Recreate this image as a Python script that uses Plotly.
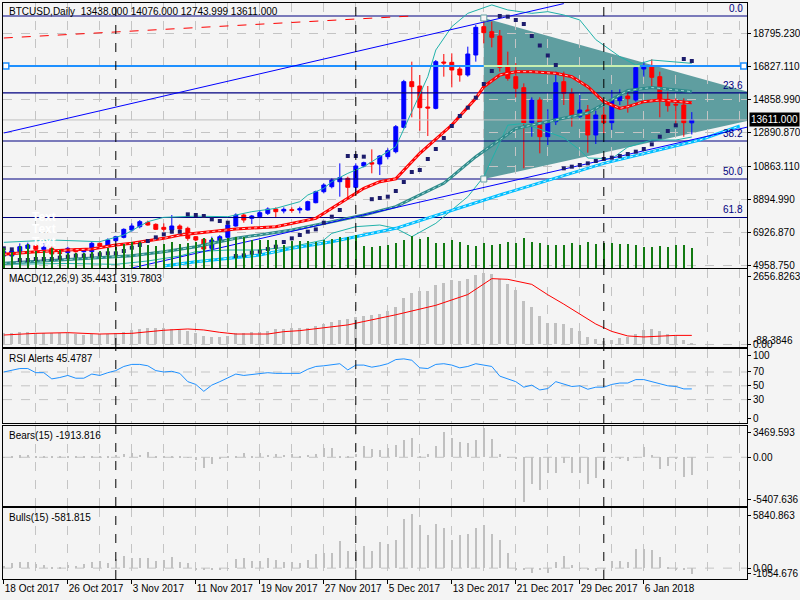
import pandas as pd
import plotly.graph_objects as go
from plotly.subplots import make_subplots

START = pd.Timestamp("2017-10-18")
DATES = pd.date_range(START, periods=87, freq="D")
DAY = pd.Timedelta(days=1)

# daily candles (18 Oct 2017 .. 12 Jan 2018)
OPEN = [5495, 5495, 5754, 5953, 6112, 5893, 5953, 5694, 5694, 5913,
        5754, 5754, 6251, 6112, 6410, 6609, 7046, 7245, 7503, 7384,
        7205, 7046, 7285, 7146, 6648, 6489, 5953, 6410, 6609, 7285,
        7941, 7742, 7841, 8040, 8298, 8179, 8259, 8239, 8239, 8676,
        9332, 9630, 9929, 10127, 9591, 10863, 11062, 10982, 11420, 11718,
        13169, 15893, 15634, 14382, 14302, 17066, 17046, 16648, 16290, 17483,
        19173, 18875, 18616, 16787, 16191, 15535, 13448, 14799, 12612, 13507,
        15893, 15197, 13805, 14203, 12712, 13905, 13448, 14760, 15038, 14799,
        16648, 16827, 16191, 14839, 14541, 14501, 13438]
HIGH = [5853, 5953, 6251, 6291, 6211, 6251, 6052, 5853, 6052, 5953,
        5913, 6350, 6290, 6549, 6700, 7146, 7444, 7642, 7603, 7444,
        7444, 7941, 7384, 7245, 6688, 6549, 6648, 6748, 7444, 8040,
        8040, 7941, 8239, 8398, 8398, 8398, 8398, 8438, 8795, 9392,
        9829, 10127, 11022, 10227, 11022, 11122, 11857, 11519, 11917, 13309,
        16000, 17086, 16290, 15634, 17185, 17543, 17583, 16787, 17980, 19272,
        19809, 19471, 18974, 17682, 17000, 15793, 14958, 14958, 14243, 16489,
        16489, 15495, 15098, 14501, 14163, 14402, 15396, 15435, 15396, 16887,
        17086, 17225, 16489, 15296, 14899, 14899, 14076]
LOW = [5356, 5257, 5555, 5853, 5814, 5754, 5456, 5217, 5615, 5694,
       5694, 5694, 6052, 6052, 6350, 6549, 6947, 7146, 7305, 7046,
       6947, 6847, 7046, 6410, 6390, 5456, 5615, 6291, 6549, 7245,
       7483, 7404, 7742, 7941, 7802, 8040, 8080, 8040, 8199, 8637,
       9233, 9531, 9034, 8935, 9332, 10784, 10426, 10326, 11261, 11619,
       13100, 13766, 12970, 12652, 14243, 16191, 15555, 15893, 16191, 17086,
       18179, 17941, 16489, 15952, 14950, 10724, 12612, 11619, 12116, 13308,
       14501, 13209, 13706, 11659, 12175, 12811, 13010, 14501, 14044, 14700,
       16191, 15634, 13766, 14104, 13308, 12612, 12743.999]
CLOSE = [5754, 5794, 6052, 6152, 5893, 6012, 5615, 5654, 5953, 5754,
         5853, 6251, 6092, 6450, 6648, 7086, 7285, 7543, 7344, 7086,
         7086, 7285, 7106, 6549, 6450, 5913, 6450, 6648, 7344, 7941,
         7642, 7881, 8080, 8298, 8139, 8279, 8219, 8318, 8736, 9332,
         9730, 10028, 10167, 9591, 10863, 11062, 10982, 11459, 11777, 13209,
         15893, 15595, 14342, 14322, 17086, 17006, 16588, 16290, 17543, 19133,
         18815, 18537, 16748, 16092, 15495, 13448, 14799, 12612, 13547, 15833,
         15197, 13845, 14203, 12712, 13905, 13448, 14799, 15038, 14879, 16728,
         16827, 16151, 14839, 14462, 14501, 13448, 13611]
# tick volume (thousands)
VOLUME = [20, 16, 22, 24, 17, 17, 20, 18, 15, 15, 15, 16, 17, 20, 21, 24, 26, 26, 23, 22,
          24, 26, 24, 25, 26, 30, 30, 30, 30, 31, 31, 28, 28, 28, 28, 23, 27, 27, 27, 26,
          28, 29, 31, 31, 33, 22, 21, 22, 23, 25, 28, 32, 29, 31, 25, 25, 28, 26, 23, 22,
          25, 23, 24, 26, 25, 30, 26, 25, 23, 23, 23, 25, 23, 26, 24, 25, 25, 24, 24, 23,
          21, 21, 22, 21, 23, 23, 20]
SAR = [5953, 5893, 5257, 5257, 5317, 5317, 5317, 5396, 5456, 5515,
       5515, 5515, 5595, 5655, 5655, 5794, 5993, 6152, 6390, 6609,
       6788, 6947, 6947, 7981, 7941, 7881, 7682, 7583, 7483, 5495,
       5535, 5694, 5754, 5913, 6052, 6330, 6549, 6748, 6947, 7086,
       7483, 7841, 8239, 11460, 11460, 11420, 8885, 8955, 9034, 9372,
       9909, 10505, 10625, 11281, 11877, 12533, 13249, 13845, 14342, 14939,
       15754, 16529, 19809, 19769, 19571, 19332, 18616, 18050, 17454, 16887,
       10724, 10823, 10923, 11022, 11161, 11281, 11360, 11460, 11579, 11718,
       11877, 12156, 12612, 12950, 13290, 17245, 17125]

# averages and bands, sampled at bar numbers
RED_MA_IDX = [0, 4, 8, 11, 14, 16, 20, 22, 24, 29, 34, 37, 39, 41, 43, 45, 47, 49, 52, 56,
              59, 60, 62, 64, 66, 69, 71, 73, 75, 77, 78, 80, 82, 84, 86]
RED_MA = [5595, 5754, 5853, 5913, 6152, 6251, 6549, 6748, 6860, 7106, 7245, 7570, 7742, 8338,
          8935, 9531, 9929, 10100, 11619, 13308, 14899, 15595, 16290, 16489, 16489, 16390,
          16191, 15595, 14700, 14302, 14402, 14700, 14799, 14700, 14640]
TEAL_MA_IDX = [0, 12, 16, 20, 24, 29, 36, 41, 45, 49, 55, 59, 62, 64, 73, 78, 81, 86]
TEAL_MA = [5058, 5396, 5515, 5754, 6052, 6549, 7046, 7543, 7941, 8438, 9829, 11420, 12414,
           13100, 14024, 15363, 15542, 15300]
SKY_MA_IDX = [20, 24, 32, 36, 41, 45, 49, 62, 75, 87, 92]
SKY_MA = [4900, 5157, 5555, 5953, 6350, 6748, 7146, 9134, 11022, 12414, 13250]
BB_UP_IDX = [0, 6, 12, 15, 18, 20, 24, 28, 31, 34, 37, 38, 40, 41, 43, 45, 47, 49, 53, 54,
             56, 58, 61, 63, 66, 68, 70, 72, 74, 77, 79, 81, 86]
BB_UP = [6311, 6450, 6350, 6748, 7543, 7802, 7870, 7841, 8139, 8338, 8736, 9134, 9531, 9929,
         10426, 10823, 11420, 12016, 16191, 17781, 19173, 19968, 20470, 20170, 19968, 20068,
         19870, 19571, 18400, 17384, 16887, 17185, 16986]
BB_LO_IDX = [0, 8, 14, 18, 22, 24, 28, 32, 36, 40, 41, 44, 47, 49, 51, 54, 58, 60, 63, 65,
             70, 72, 73, 76, 78, 81, 84, 86]
BB_LO = [5000, 5050, 5000, 5200, 5500, 5754, 5853, 5853, 6052, 6450, 6847, 7245, 7344, 7146,
         6648, 7444, 9034, 10227, 13300, 13400, 12550, 11817, 11340, 11300, 11996, 12413,
         12413, 12593]

# indicator windows
MACD_HIST = [392, 416, 451, 451, 416, 416, 416, 416, 392, 368, 333, 368, 368, 368, 392, 451,
             511, 535, 570, 594, 570, 546, 511, 475, 392, 297, 273, 273, 297, 392, 392, 451,
             451, 475, 535, 546, 570, 570, 594, 653, 713, 784, 867, 891, 950, 986, 1045, 1081,
             1164, 1307, 1639, 1818, 1877, 1877, 2091, 2174, 2269, 2233, 2293, 2435, 2530,
             2495, 2293, 2115, 1901, 1521, 1319, 986, 772, 772, 725, 570, 475, 273, 190, 119,
             154, 214, 249, 356, 511, 546, 475, 356, 333, 154, 35]
MACD_SIG_IDX = [0, 4, 8, 12, 16, 18, 20, 23, 25, 27, 29, 33, 35, 37, 39, 41, 43, 45, 47, 49,
                54, 58, 61, 63, 66, 68, 70, 72, 74, 76, 78, 80, 82, 84, 86]
MACD_SIG = [333, 392, 416, 368, 392, 451, 500, 546, 511, 428, 368, 368, 451, 487, 546, 630,
            689, 808, 927, 1045, 1378, 1758, 2317, 2293, 2115, 1750, 1420, 1070, 720, 460,
            300, 265, 300, 320, 320]
RSI = [70, 72, 75, 75, 69, 69, 60, 62, 65, 61, 61, 67, 65, 69, 72, 78, 81, 81, 79, 72,
       70, 71, 68, 56, 52, 42, 51, 56, 62, 67, 65, 66, 67, 69, 68, 68, 68, 68, 74, 78,
       79, 81, 82, 73, 80, 80, 77, 79, 82, 88, 89, 87, 76, 75, 81, 82, 80, 76, 78, 82,
       80, 78, 64, 60, 56, 48, 51, 44, 46, 56, 53, 49, 50, 45, 48, 48, 52, 54, 54, 59,
       59, 56, 53, 50, 49, 45.5, 45.5]
BEARS = [30, 100, 200, 250, 60, 120, 50, 90, 120, 90, 60, 140, 90, 180, 255, 330, 440, 255,
         625, 144, 100, 180, 60, -80, -300, -1151, -781, -115, 33, 144, 440, 181, 440, 255,
         329, 255, 329, 181, 255, 329, 1069, 1069, 181, 144, 329, 1291, 921, 810, 995, 1365,
         1920, 2105, 150, 329, 1291, 2771, 2105, 1735, 1550, 1920, 3215, 1994, 329, -41,
         -100, -4924, -3000, -3629, -1800, -1783, -596, -1783, -1800, -3000, -2260, -1335,
         -41, -100, -411, -50, 1180, 255, -1335, -929, -100, -2149, -1914]
BULLS = [227, 456, 620, 620, 391, 292, 161, 62, 292, 227, 391, 555, 719, 489, 883, 1211,
         982, 982, 949, 719, 817, 1047, 620, 489, -102, -102, -102, -102, -36, 883, 949, 719,
         719, 949, 817, 620, 555, 489, 785, 1376, 1474, 1474, 2623, 1704, 1802, 2196, 1704,
         2525, 2361, 2689, 4725, 5250, 4166, 3181, 4330, 3936, 2689, 3247, 3280, 3936, 4232,
         3280, 2689, 1441, -102, -167, -430, -200, -430, 620, 1211, 292, -36, -102, -266,
         -102, 719, 719, 620, 1868, 1868, 1769, 1047, 62, -102, -102, -582]

# objects drawn on the chart (bar number, price)
FIB_LEVELS = [19809, 15221, 12354, 10088, 7794]
FIB_LABELS = ["0.0", "23.6", "38.2", "50.0", "61.8"]
HLINE_PRICE = 16827.11
HLINE_PALE = [60, 79.5]
LAST_PRICE = 13611.0
CHANNEL_UP = ([0, 70], [12831, 20550])
CHANNEL_LO = ([16, 93], [4780, 13190])
RED_DASH = ([0, 51], [18497, 19809])
TRIANGLE = ([60, 60, 100.25], [19690, 10088, 14322])
HANDLES = ([0.25, 92.5], [16827.11, 16827.11])
TRI_HANDLES = ([60, 60], [19690, 10088])
TEXT_OBJ = ([5, 5, 5], [7822, 7106, 6330])
MONTH_STARTS = ["2017-11-01", "2017-12-01", "2018-01-01"]

PRICE_TICKS = [18795.23, 16827.11, 14858.99, 12890.87, 10863.11, 8894.99, 6926.87, 4958.75]
DATE_TICKS = ["2017-10-18", "2017-10-26", "2017-11-03", "2017-11-11", "2017-11-19",
              "2017-11-27", "2017-12-05", "2017-12-13", "2017-12-21", "2017-12-29", "2018-01-06"]

FONT = "Liberation Sans"
GRID = "#c4c4c4"
BG = "#f4f4f4"
MS_DAY = 86400000


def at(idx):
    return [START + DAY * i for i in idx]


def pathdate(i):
    return (START + DAY * i).strftime("%Y-%m-%d_%H:%M:%S")


fig = make_subplots(rows=5, cols=1, shared_xaxes=True, vertical_spacing=0.004,
                    specs=[[{"secondary_y": True}], [{}], [{}], [{}], [{}]])


def main(tr):
    fig.add_trace(tr, row=1, col=1, secondary_y=False)


def hatched(idx, vals, color, inner):
    main(go.Scatter(x=at(idx), y=vals, mode="lines", line=dict(color=color, width=3)))
    main(go.Scatter(x=at(idx), y=vals, mode="lines", line=dict(color=inner, width=1, dash="dot")))


# fib levels, horizontal line and last price as flat traces over the triangle
def hline(price, color, width):
    main(go.Scatter(x=[START - DAY * 2, START + DAY * 96], y=[price, price], mode="lines",
                    line=dict(color=color, width=width)))


for lvl in FIB_LEVELS:
    hline(lvl, "#000080", 1.2)
hline(LAST_PRICE, "#c0c0c0", 1)
hline(HLINE_PRICE, "#1e90ff", 2)

# bands, averages, trend lines
main(go.Scatter(x=at(BB_UP_IDX), y=BB_UP, mode="lines", line=dict(color="#20b2aa", width=1)))
main(go.Scatter(x=at(BB_LO_IDX), y=BB_LO, mode="lines", line=dict(color="#20b2aa", width=1)))
hatched(SKY_MA_IDX, SKY_MA, "#00bfff", "#d8f4ff")
hatched(TEAL_MA_IDX, TEAL_MA, "#2e8b8b", "#a8d4d4")
for xs, ys in (CHANNEL_UP, CHANNEL_LO):
    main(go.Scatter(x=at(xs), y=ys, mode="lines", line=dict(color="#0000ff", width=1)))
hatched(RED_MA_IDX, RED_MA, "#ff0000", "#ffc8c8")
main(go.Scatter(x=at(RED_DASH[0]), y=RED_DASH[1], mode="lines",
                line=dict(color="#ff0000", width=1, dash="dash")))
main(go.Scatter(x=at(HLINE_PALE), y=[HLINE_PRICE] * 2, mode="lines",
                line=dict(color="#c8f0b0", width=2)))

main(go.Candlestick(x=DATES, open=OPEN, high=HIGH, low=LOW, close=CLOSE, whiskerwidth=0,
                    increasing=dict(line=dict(color="#0000ff", width=1), fillcolor="#0000ff"),
                    decreasing=dict(line=dict(color="#ff0000", width=1), fillcolor="#ff0000")))
main(go.Scatter(x=DATES, y=SAR, mode="markers",
                marker=dict(symbol="square", size=4, color="#1c1c6c")))
main(go.Scatter(x=at(HANDLES[0]), y=HANDLES[1], mode="markers",
                marker=dict(symbol="square", size=6, color="white",
                            line=dict(color="#1e90ff", width=1.5))))
main(go.Scatter(x=at(TRI_HANDLES[0]), y=TRI_HANDLES[1], mode="markers",
                marker=dict(symbol="square", size=6, color=BG,
                            line=dict(color="#5f9ea0", width=1))))

fig.add_trace(go.Bar(x=DATES, y=VOLUME, width=0.18 * MS_DAY,
                     marker=dict(color="#127a12", line=dict(width=0))),
              row=1, col=1, secondary_y=True)

# MACD
fig.add_trace(go.Bar(x=DATES, y=MACD_HIST, width=0.4 * MS_DAY,
                     marker=dict(color="#c0c0c0", line=dict(width=0))), row=2, col=1)
fig.add_trace(go.Scatter(x=at(MACD_SIG_IDX), y=MACD_SIG, mode="lines",
                         line=dict(color="#ff0000", width=1)), row=2, col=1)
# RSI
fig.add_trace(go.Scatter(x=DATES, y=RSI, mode="lines", line=dict(color="#1e90ff", width=1)),
              row=3, col=1)
# Bears / Bulls
fig.add_trace(go.Bar(x=DATES, y=BEARS, width=0.14 * MS_DAY,
                     marker=dict(color="#c0c0c0", line=dict(width=0))), row=4, col=1)
fig.add_trace(go.Bar(x=DATES, y=BULLS, width=0.14 * MS_DAY,
                     marker=dict(color="#c0c0c0", line=dict(width=0))), row=5, col=1)

# shapes: triangle, month separators, indicator grid
shapes = [dict(type="path", xref="x", yref="y", layer="below",
               path="M %s %s L %s %s L %s %s Z" % (pathdate(TRIANGLE[0][0]), TRIANGLE[1][0],
                                                   pathdate(TRIANGLE[0][1]), TRIANGLE[1][1],
                                                   pathdate(TRIANGLE[0][2]), TRIANGLE[1][2]),
               fillcolor="#5f9ea0", line=dict(width=0))]
panel_refs = [("x", "y"), ("x2", "y3"), ("x3", "y4"), ("x4", "y5"), ("x5", "y6")]
for m in MONTH_STARTS:
    for xr, yr in panel_refs:
        shapes.append(dict(type="line", xref=xr, yref=yr + " domain", x0=m, x1=m, y0=0, y1=1,
                           layer="above", line=dict(color="black", width=1, dash="dash")))
for yr, xr, vals in (("y3", "x2", [0]), ("y4", "x3", [70, 50, 30]), ("y5", "x4", [0]), ("y6", "x5", [0])):
    for v in vals:
        shapes.append(dict(type="line", xref=xr + " domain", yref=yr, x0=0, x1=1, y0=v, y1=v,
                           layer="below", line=dict(color=GRID, width=1, dash="dash")))

# annotations
ann = []
tf = dict(family=FONT, size=10, color="black")
ann.append(dict(text="BTCUSD,Daily\u00a0\u00a013438.000 14076.000 12743.999 13611.000",
                xref="paper", yref="paper", x=0.0054, y=1.0, xanchor="left", yanchor="top",
                yshift=-1, showarrow=False, font=tf))
for txt, top in (("MACD(12,26,9) 35.4431 319.7803", 0.5382), ("RSI Alerts 45.4787", 0.3993),
                 ("Bears(15) -1913.816", 0.2656), ("Bulls(15) -581.815", 0.1233)):
    ann.append(dict(text=txt, xref="paper", yref="paper", x=0.0054, y=top, xanchor="left",
                    yanchor="top", yshift=-2, showarrow=False, font=tf))
for lvl, lab in zip(FIB_LEVELS, FIB_LABELS):
    ann.append(dict(text=lab, xref="paper", yref="y", x=0.997, y=lvl, xanchor="right",
                    yanchor="bottom", showarrow=False,
                    font=dict(family=FONT, size=10, color="#000080")))
ann.append(dict(text="13611.000", xref="paper", yref="y", x=1.0, y=LAST_PRICE, xanchor="left",
                xshift=2, showarrow=False, bgcolor="black", borderpad=1,
                font=dict(family=FONT, size=10, color="white")))
ann.append(dict(text="-88.3846", xref="paper", yref="y3", x=1.0, y=0, xanchor="left",
                xshift=4, yshift=4, showarrow=False, font=tf))
for xi, yv in zip(*TEXT_OBJ):
    ann.append(dict(text="<b>Text</b>", x=START + DAY * xi, y=yv, xref="x", yref="y",
                    showarrow=False, font=dict(family=FONT, size=12, color="white")))

fig.update_layout(
    width=800, height=600, margin=dict(l=3, r=53, t=3, b=21, autoexpand=False),
    paper_bgcolor=BG, plot_bgcolor=BG, showlegend=False, bargap=0,
    shapes=shapes, annotations=ann,
    font=dict(family=FONT, size=10, color="black"),
)

xr = [START - DAY * 0.1, START + DAY * 92.9]
fig.update_xaxes(type="date", range=xr, domain=[0, 1], rangeslider_visible=False, showgrid=True,
                 gridcolor=GRID, griddash="dash", gridwidth=1, automargin=False,
                 tickmode="array", tickvals=DATE_TICKS,
                 minor=dict(tick0="2017-10-18", dtick=4 * MS_DAY, showgrid=True,
                            gridcolor=GRID, griddash="dash"),
                 showline=True, linecolor="black", linewidth=1, mirror=True,
                 zeroline=False, showticklabels=False, ticks="")
fig.update_xaxes(row=5, col=1, showticklabels=True, ticks="outside", ticklen=4, tickangle=0,
                 tickcolor="black", tickformat="%-d %b %Y", ticklabelposition="outside right",
                 tickfont=dict(family=FONT, size=10))

yax = dict(side="right", ticks="outside", ticklen=3, tickcolor="black", showline=True,
           linecolor="black", linewidth=1, mirror=True, zeroline=False, fixedrange=True,
           automargin=False, tickfont=dict(family=FONT, size=10))
fig.update_layout(
    yaxis=dict(domain=[0.5399, 1.0], range=[4779.9, 20584.5], tickvals=PRICE_TICKS,
               ticktext=["%.3f" % v for v in PRICE_TICKS], showgrid=True, gridcolor=GRID,
               griddash="dash", **yax),
    yaxis2=dict(range=[0, 265], visible=False, showgrid=False),
    yaxis3=dict(domain=[0.4028, 0.5382], range=[-88.3846, 2656.8263],
                tickvals=[2389, 0], ticktext=["2656.8263", "0.00"], showgrid=False, **yax),
    yaxis4=dict(domain=[0.2708, 0.3993], range=[-3.9, 103.3],
                tickvals=[93.7, 70, 50, 30, 3.3], ticktext=["100", "70", "50", "30", "0"],
                showgrid=False, **yax),
    yaxis5=dict(domain=[0.1267, 0.2656], range=[-5407.636, 3469.593],
                tickvals=[2774, 0, -4738], ticktext=["3469.593", "0.00", "-5407.636"],
                showgrid=False, **yax),
    yaxis6=dict(domain=[0.0, 0.1233], range=[-1054.676, 5840.863],
                tickvals=[5083, 0, -493], ticktext=["5840.863", "0.00", "-1054.676"],
                showgrid=False, **yax),
)

fig.write_html("out.html", config={"responsive": False, "displayModeBar": False},
               post_script="document.body.style.margin='0';document.body.style.overflow='hidden';")
